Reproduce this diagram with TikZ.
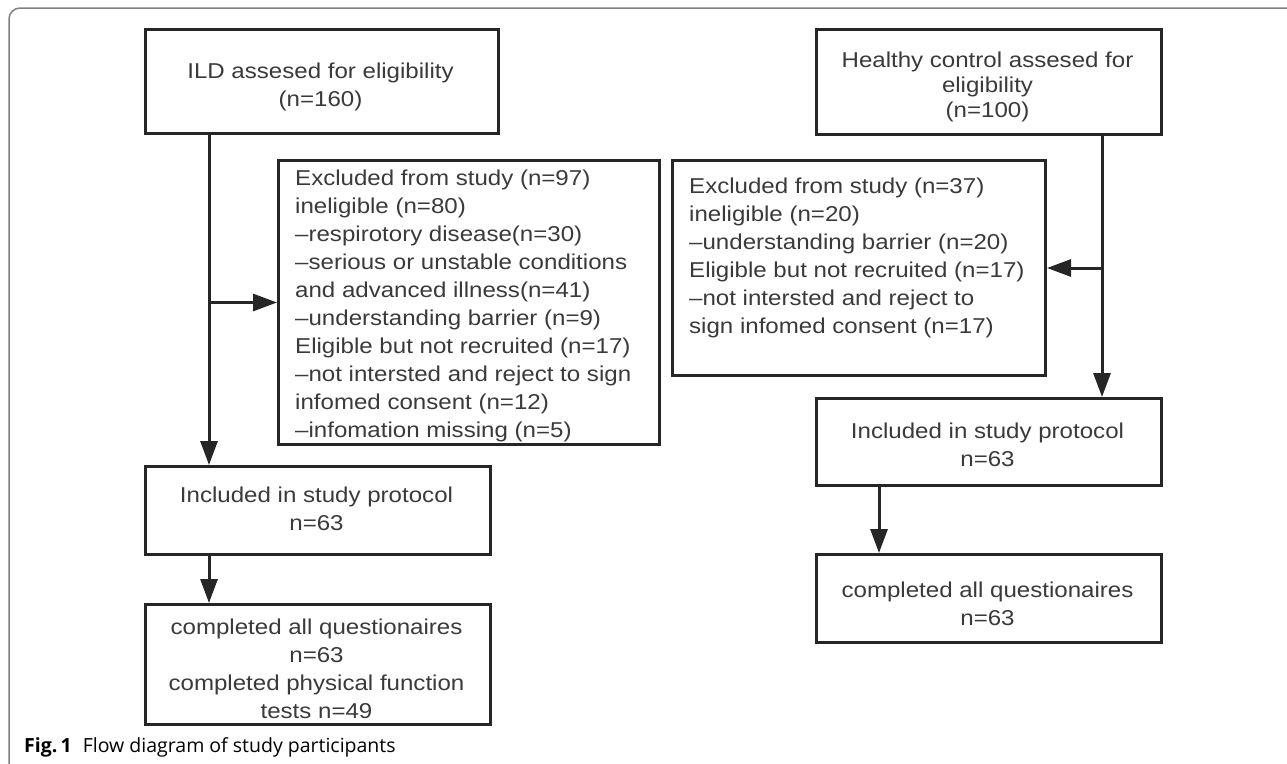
\documentclass[tikz,border=0pt]{standalone}
\usepackage{fontspec}
\setmainfont{Liberation Sans}[FakeStretch=1.12]
\newfontfamily\capfont{Open Sans}
\usetikzlibrary{arrows.meta}
\definecolor{boxline}{HTML}{262626}
\definecolor{txt}{HTML}{3A3A3A}
\definecolor{framegray}{HTML}{808080}
\begin{document}
\begin{tikzpicture}[x=1pt,y=-1pt,
  box/.style={draw=boxline, line width=3pt, anchor=north west, inner sep=0pt, fill=white},
  tline/.style={inner sep=0pt, text=txt, font=\fontsize{21.5}{28}\selectfont},
  ctext/.style={tline, align=center, anchor=base},
  ltext/.style={tline, align=left, anchor=base west},
  arr/.style={draw=boxline, line width=3pt, -{Triangle[length=24pt,width=17pt]}},
  frame/.style={draw=framegray, line width=1.5pt, rounded corners=11pt}]
\useasboundingbox (0,0) rectangle (1287,763);
\draw[frame] (9,770) -- (9,8) -- (1295,8);
% boxes
\node[box, minimum width=353pt, minimum height=104pt] (ild) at (144,28) {};
\node[box, minimum width=345pt, minimum height=105pt] (hc) at (815,28) {};
\node[box, minimum width=381pt, minimum height=284pt] (exL) at (277,159) {};
\node[box, minimum width=373pt, minimum height=215pt] (exR) at (671,159) {};
\node[box, minimum width=345pt, minimum height=88pt] (inL) at (144,465) {};
\node[box, minimum width=345pt, minimum height=87pt] (inR) at (815,397) {};
\node[box, minimum width=345pt, minimum height=120pt] (coL) at (144,603) {};
\node[box, minimum width=345pt, minimum height=88pt] (coR) at (815,553) {};
% texts (anchor = baseline of the last line)
\node[ctext] (tild) at (320.5,106) {ILD assesed for eligibility\\(n=160)};
\node[ctext, font=\fontsize{21.5}{25}\selectfont] (thc) at (987.5,117) {Healthy control assesed for\\eligibility\\(n=100)};
\node[ltext] (texL) at (295,437) {Excluded from study (n=97)\\ineligible (n=80)\\–respirotory disease(n=30)\\–serious or unstable conditions\\and advanced illness(n=41)\\–understanding barrier (n=9)\\Eligible but not recruited (n=17)\\–not intersted and reject to sign\\infomed consent (n=12)\\–infomation missing (n=5)};
\node[ltext] (texR) at (689,333) {Excluded from study (n=37)\\ineligible (n=20)\\–understanding barrier (n=20)\\Eligible but not recruited (n=17)\\–not intersted and reject to\\sign infomed consent (n=17)};
\node[ctext] (tinL) at (316.5,530) {Included in study protocol\\n=63};
\node[ctext] (tinR) at (987.5,466) {Included in study protocol\\n=63};
\node[ctext] (tcoL) at (316.5,718) {completed all questionaires\\n=63\\completed physical function\\tests n=49};
\node[ctext] (tcoR) at (987.5,625) {completed all questionaires\\n=63};
% connectors
\coordinate (lx) at (209,0);
\coordinate (rx) at (1102,0);
\coordinate (rx2) at (879,0);
\draw[arr] (ild.south -| lx) -- (inL.north -| lx);
\draw[arr] (lx |- exL.west) -- (exL.west);
\draw[arr] (hc.south -| rx) -- (inR.north -| rx);
\draw[arr] (rx |- exR.east) -- (exR.east);
\draw[arr] (inL.south -| lx) -- (coL.north -| lx);
\draw[arr] (inR.south -| rx2) -- (coR.north -| rx2);
% caption
\node[anchor=base west, inner sep=0pt, text=black, font=\capfont\fontsize{19.5}{23}\selectfont] (cap) at (24,752) {\textbf{Fig.\,1}\hspace{11pt}Flow diagram of study participants};
\end{tikzpicture}
\end{document}
